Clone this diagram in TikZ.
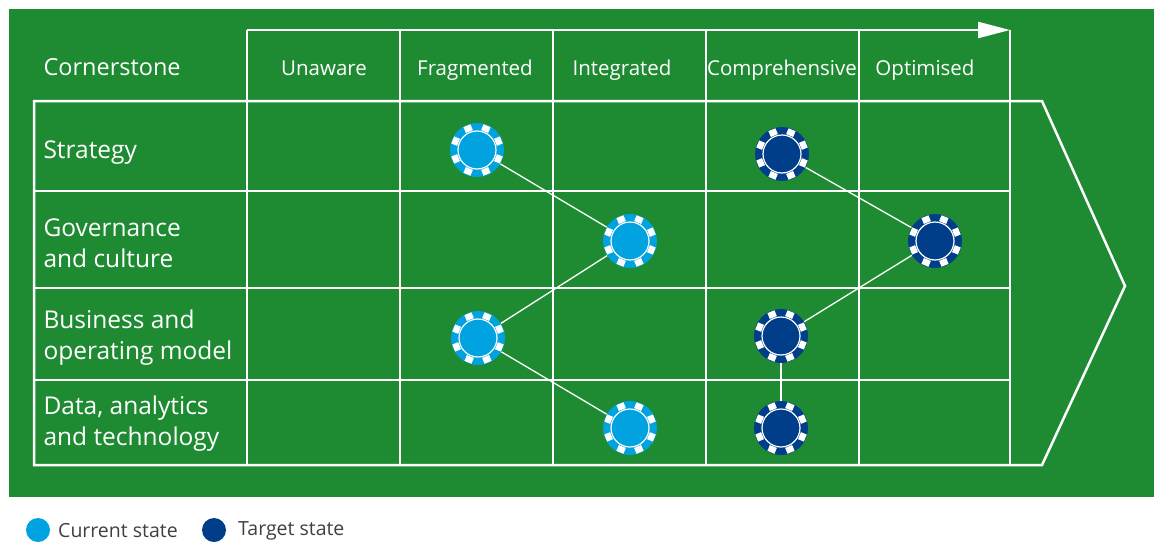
\documentclass[tikz,border=0pt]{standalone}
\usepackage{fontspec}
\setmainfont{Open Sans}
\usetikzlibrary{arrows.meta}
\definecolor{bggreen}{RGB}{30,139,50}
\definecolor{curblue}{RGB}{0,163,224}
\definecolor{tgtblue}{RGB}{0,62,138}
\tikzset{
    gridline/.style={white,line width=2.5pt},
    link/.style={white,line width=1.3pt},
    head/.style={white,anchor=base,font=\fontsize{20.5}{24}\selectfont},
    rowlabel/.style={white,anchor=west,align=left,font=\fontsize{24.5}{31}\selectfont},
    chip/.style={circle,minimum size=54pt,inner sep=0pt,fill=#1},
    notch/.style={white},
    dot/.style={circle,minimum size=24pt,inner sep=0pt,fill=#1},
    legend/.style={anchor=west,inner sep=0pt,text=black!75,font=\fontsize{19.5}{24}\selectfont}
}
\begin{document}
\begin{tikzpicture}[x=1pt,y=-1pt]
        \useasboundingbox(0,0)rectangle(1154,541);
        \fill[bggreen](9,9)rectangle(1154,497);

        % grid and chevron
        \draw[gridline,-{Triangle[length=32pt,width=16pt]}](247,30)--(1010,30);
        \draw[gridline](34,101)--(1042,101)--(1125,286)--(1042,465)--(34,465)--cycle;
        \foreach \x in {247,400,553,706,859,1010}
            \draw[gridline](\x,30)--(\x,465);
        \foreach \y in {191,288,380}
            \draw[gridline](34,\y)--(1010,\y);

        % headings
        \node[white,anchor=west,font=\fontsize{23.5}{28}\selectfont](corner)at(40,67){Cornerstone};
        \node[head](unaware)at(324,75){Unaware};
        \node[head](fragmented)at(475,75){Fragmented};
        \node[head](integrated)at(622,75){Integrated};
        \node[head](comprehensive)at(782,75){Comprehensive};
        \node[head](optimised)at(925,75){Optimised};

        \node[rowlabel](strategy)at(40,153){Strategy};
        \node[rowlabel](governance)at(40,243){Governance\\and culture};
        \node[rowlabel](business)at(40,338){Business and\\operating model};
        \node[rowlabel](data)at(40,424){Data, analytics\\and technology};

        % current state
        \node[chip=curblue](cS)at(477,150){};
        \node[chip=curblue](cG)at(630,241){};
        \node[chip=curblue](cB)at(478,338){};
        \node[chip=curblue](cD)at(630,428){};
        \draw[link](cS)--(cG);
        \draw[link](cG)--(cB);
        \draw[link](cB)--(cD);

        % target state
        \node[chip=tgtblue](tS)at(782,154){};
        \node[chip=tgtblue](tG)at(935,241){};
        \node[chip=tgtblue](tB)at(781,336){};
        \node[chip=tgtblue](tD)at(781,428){};
        \draw[link](tS)--(tG);
        \draw[link](tG)--(tB);
        \draw[link](tB)--(tD);

        % chip rims
        \foreach \n in {cS,cG,cB,cD,tS,tG,tB,tD}{
            \begin{scope}[shift={(\n.center)}]
                \foreach \a in {22.5,67.5,...,337.5}
                    \fill[notch,rotate=\a](20pt,-3.8pt)rectangle(26.3pt,3.8pt);
                \draw[white,line width=1.2pt](0,0)circle(19pt);
            \end{scope}
        }

        % legend
        \node[dot=curblue](lcur)at(38,530){};
        \node[legend](lcurtext)at(58,531){Current state};
        \node[dot=tgtblue](ltgt)at(214,530){};
        \node[legend](ltgttext)at(238,531){Target state};
    \end{tikzpicture}
\end{document}
